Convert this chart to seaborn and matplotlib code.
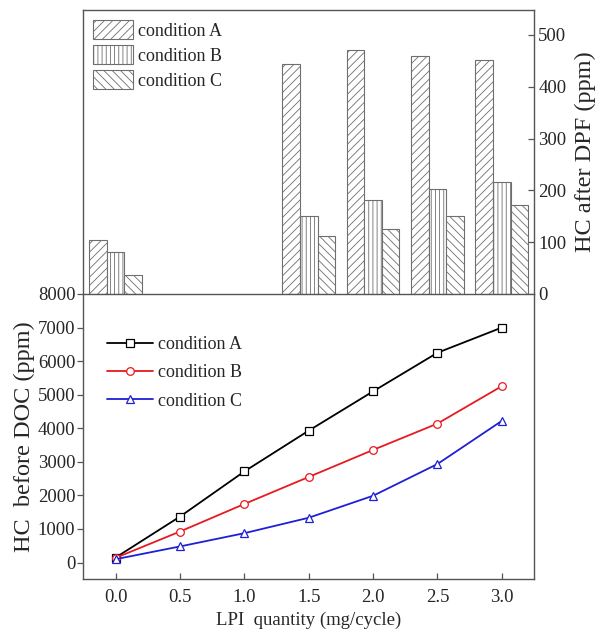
import numpy as np
import pandas as pd
import matplotlib
matplotlib.use("Agg")
import matplotlib.pyplot as plt
from matplotlib.patches import Patch
import seaborn as sns

# HC downstream of the DPF (bar chart, top panel)
bar_lpi = [0.0, 1.5, 2.0, 2.5, 3.0]
dpf_a = [104, 443, 470, 459, 451]
dpf_b = [82, 151, 182, 203, 217]
dpf_c = [37, 111, 125, 151, 172]

# HC upstream of the DOC (line chart, bottom panel)
line_lpi = [0.0, 0.5, 1.0, 1.5, 2.0, 2.5, 3.0]
doc_a = [150, 1370, 2715, 3930, 5100, 6250, 7000]
doc_b = [140, 925, 1745, 2550, 3355, 4140, 5255]
doc_c = [100, 480, 875, 1335, 1990, 2935, 4220]

conditions = ["condition A", "condition B", "condition C"]
hatches = ["////", "||||", "\\\\\\\\"]
line_colors = ["black", "#e8191f", "#1f1fd6"]
markers = ["s", "o", "^"]
x_ticks = [0.0, 0.5, 1.0, 1.5, 2.0, 2.5, 3.0]

sns.set_theme(style="white")
plt.rcParams["font.family"] = ["Liberation Serif", "DejaVu Serif"]
plt.rcParams["hatch.linewidth"] = 0.6
plt.rcParams["axes.edgecolor"] = "#555555"
plt.rcParams["axes.linewidth"] = 1.0

W, H = 602, 639
fig = plt.figure(figsize=(W / 100, H / 100), dpi=100)
left, right = 83, 534
top_y0, mid_y, bot_y1 = 10, 294, 579
ax_top = fig.add_axes([left / W, 1 - mid_y / H, (right - left) / W, (mid_y - top_y0) / H])
ax_bot = fig.add_axes([left / W, 1 - bot_y1 / H, (right - left) / W, (bot_y1 - mid_y) / H])

# ---- top panel: bars ----
bars = pd.DataFrame({
    "lpi": bar_lpi * 3,
    "hc": dpf_a + dpf_b + dpf_c,
    "cond": sum([[c] * len(bar_lpi) for c in conditions], []),
})
sns.barplot(data=bars, x="lpi", y="hc", hue="cond", native_scale=True,
            palette=["white"] * 3, edgecolor="#6e6e6e", linewidth=0.8,
            width=0.82, dodge=True, legend=False, ax=ax_top)
for cont, h in zip(ax_top.containers, hatches):
    for p in cont.patches:
        p.set_hatch(h)
        p.set_facecolor("white")
        p.set_edgecolor("#6e6e6e")

ax_top.set_xlim(-0.254, 3.25)
ax_top.set_ylim(0, 548)
ax_top.set_yticks(range(0, 501, 100))
ax_top.yaxis.tick_right()
ax_top.yaxis.set_label_position("right")
ax_top.tick_params(axis="y", which="both", direction="in", length=4, width=0.9,
                   color="#555555", labelsize=13.5, pad=3, left=False, right=True)
ax_top.tick_params(axis="x", bottom=False, labelbottom=False)
ax_top.set_xlabel("")
ax_top.set_ylabel("HC after DPF (ppm)", fontsize=17.5, labelpad=6)
ax_top.spines["bottom"].set_visible(False)

bar_handles = [Patch(facecolor="white", edgecolor="#6e6e6e", hatch=h, linewidth=0.8, label=c)
               for c, h in zip(conditions, hatches)]
ax_top.legend(handles=bar_handles, loc="upper left", frameon=False, fontsize=13,
              handlelength=2.2, handleheight=1.25, labelspacing=0.3,
              handletextpad=0.3, borderaxespad=0.45, borderpad=0.1)

# ---- bottom panel: lines ----
for vals, cond, col, m in zip([doc_a, doc_b, doc_c], conditions, line_colors, markers):
    sns.lineplot(x=line_lpi, y=vals, color=col, marker=m, markersize=5.5,
                 markerfacecolor="white", markeredgecolor=col, markeredgewidth=0.9,
                 linewidth=1.3, label=cond, ax=ax_bot)

ax_bot.set_xlim(-0.254, 3.25)
ax_bot.set_ylim(-490, 8000)
ax_bot.set_xticks(x_ticks)
ax_bot.set_xticklabels([f"{v:.1f}" for v in x_ticks])
ax_bot.set_yticks(range(0, 8001, 1000))
ax_bot.tick_params(axis="x", direction="in", length=4, width=0.9, color="#555555",
                   labelsize=13.5, pad=7, bottom=True)
ax_bot.tick_params(axis="y", direction="out", length=4, width=0.9, color="#555555",
                   labelsize=13.5, pad=1.5, left=True)
ax_bot.set_xlabel("LPI  quantity (mg/cycle)", fontsize=13.5, labelpad=4)
ax_bot.set_ylabel("HC  before DOC (ppm)", fontsize=17.5, labelpad=2)

ax_bot.legend(loc="upper left", frameon=False, fontsize=13,
              handlelength=2.55, labelspacing=0.62, handletextpad=0.3,
              bbox_to_anchor=(0.037, 0.877), borderaxespad=0.0)

fig.savefig("out.png", dpi=100)
